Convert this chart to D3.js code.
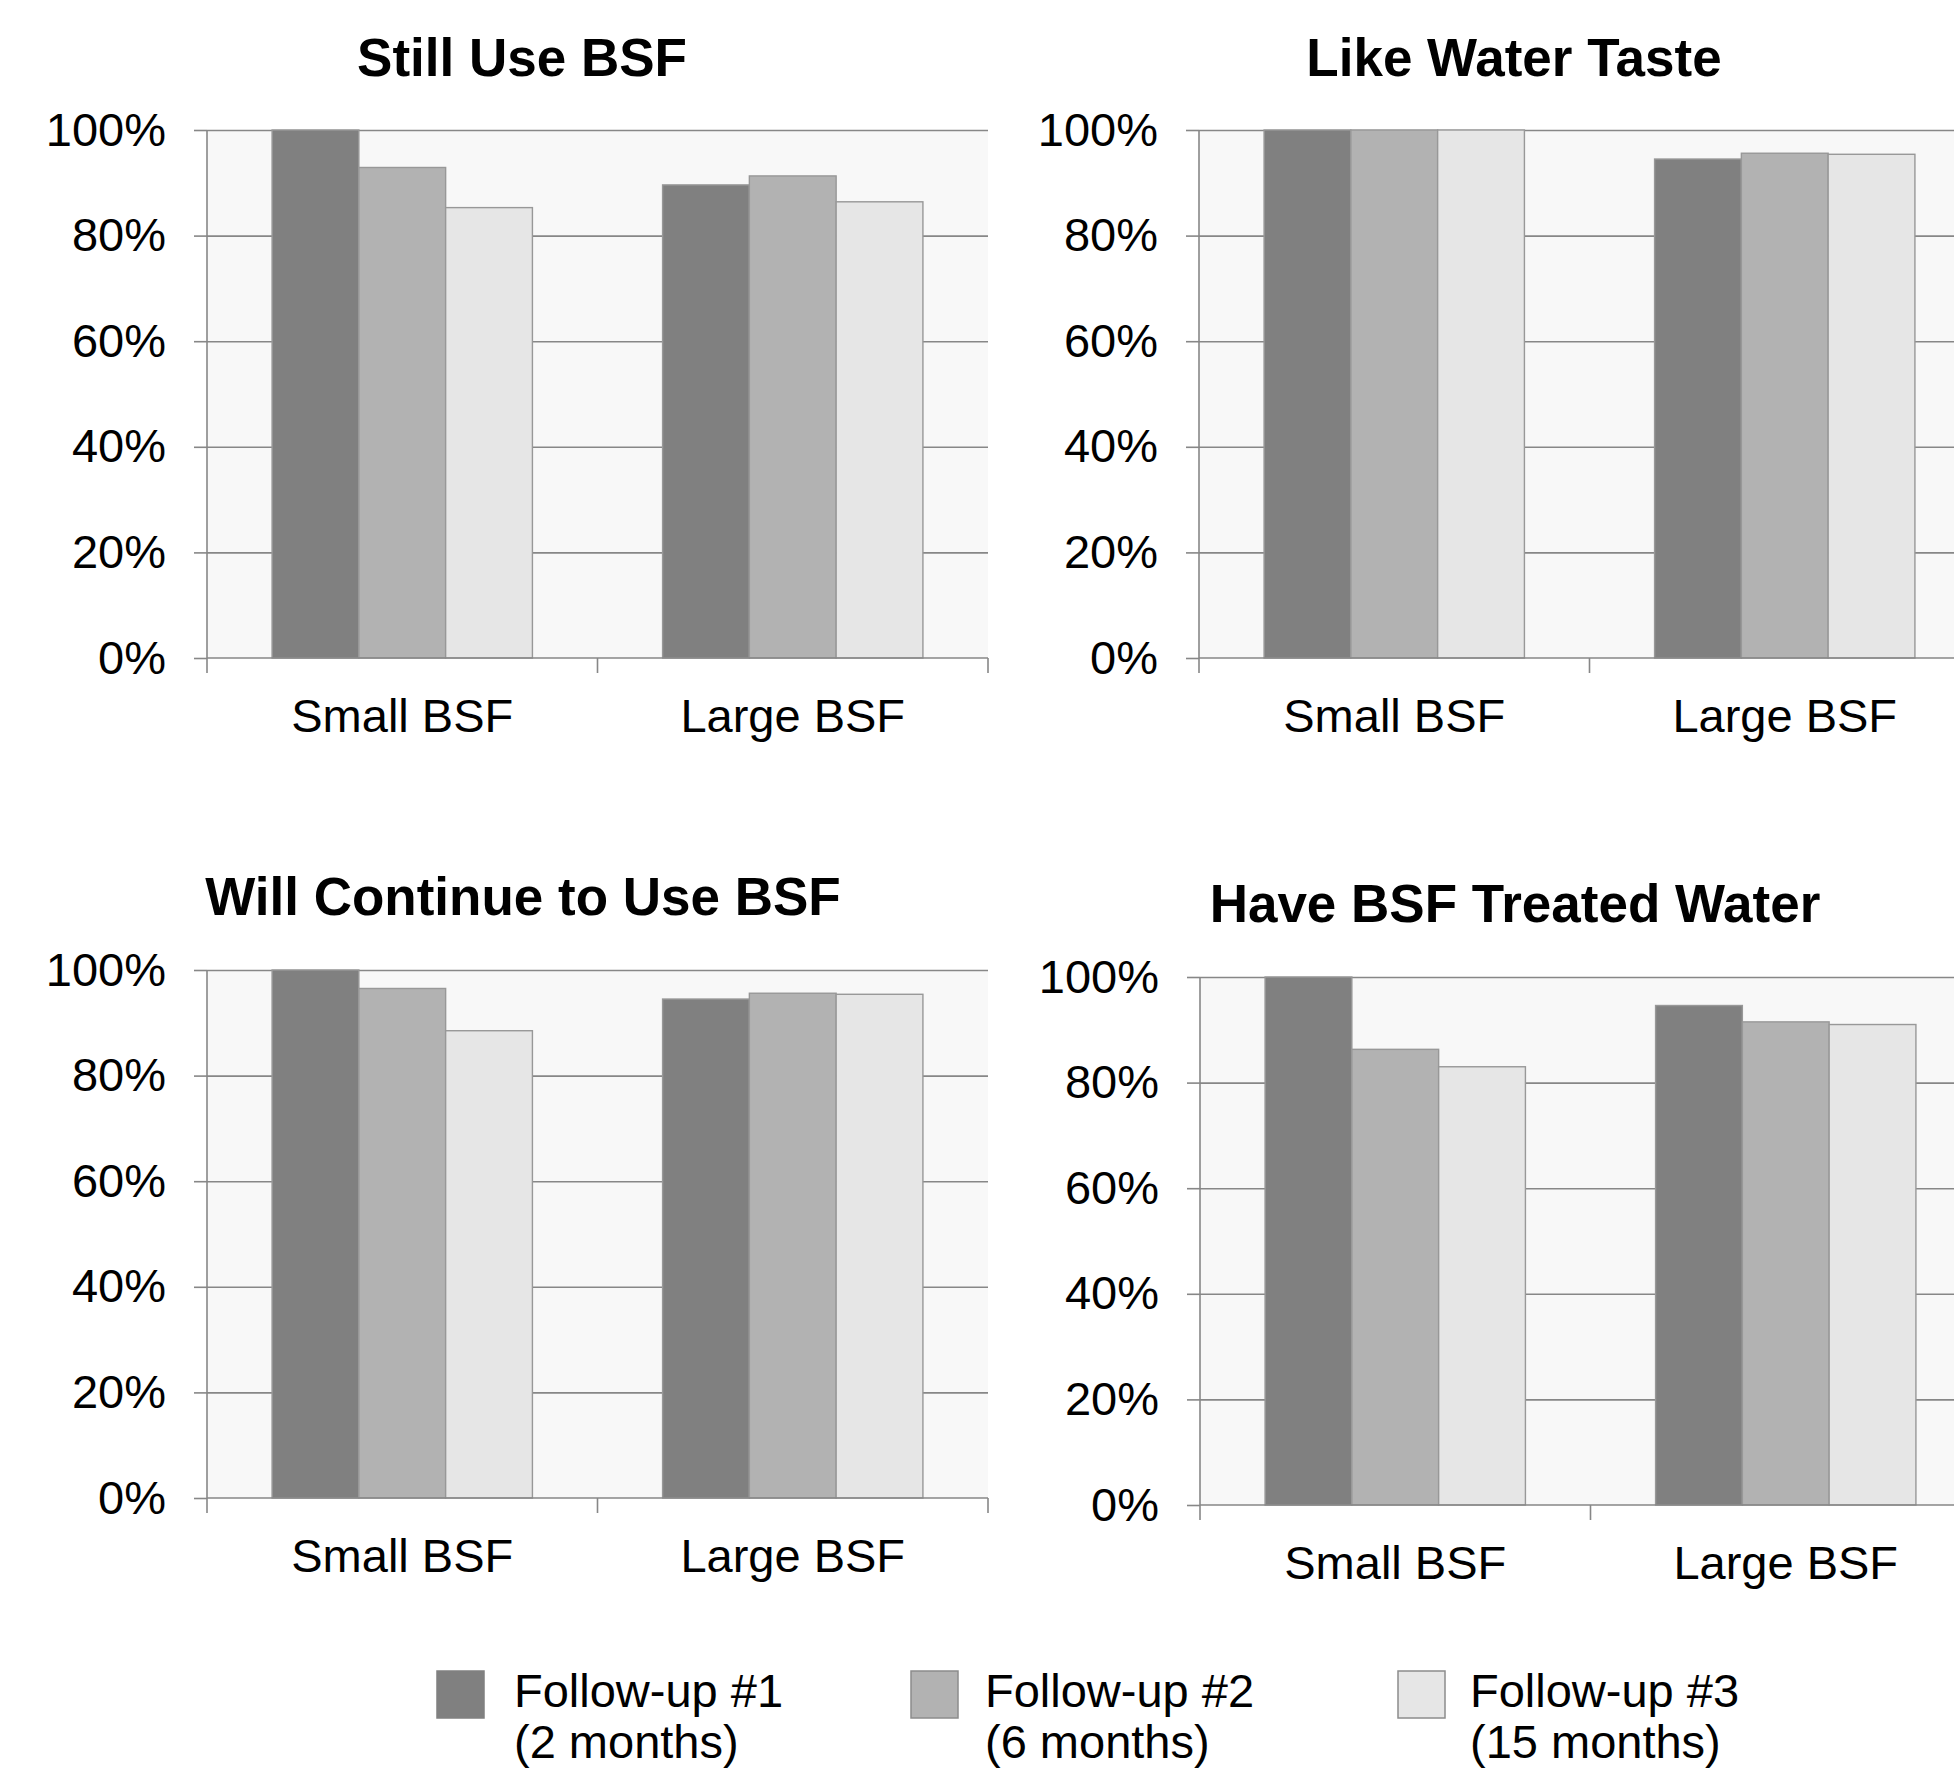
<!DOCTYPE html>
<html>
<head>
<meta charset="utf-8">
<script src="https://cdn.jsdelivr.net/npm/d3@7"></script>
<style>
  body { margin: 0; background: #fff; }
  svg { display: block; font-family: "Liberation Sans", Arial, sans-serif; }
</style>
</head>
<body>
<div id="chart"></div>
<script>
// data
const categories = ["Small BSF", "Large BSF"];
const seriesNames = ["Follow-up #1", "Follow-up #2", "Follow-up #3"];
const seriesPeriods = ["(2 months)", "(6 months)", "(15 months)"];
const panelTitles = ["Still Use BSF", "Like Water Taste", "Will Continue to Use BSF", "Have BSF Treated Water"];
const yTicks = [0, 20, 40, 60, 80, 100];

// values per category: [follow-up 1, 2, 3]
const stillUse = [[100, 92.9, 85.3], [89.6, 91.3, 86.4]];
const likeTaste = [[100, 100, 100], [94.5, 95.6, 95.4]];
const willContinue = [[100, 96.5, 88.5], [94.5, 95.6, 95.4]];
const haveTreated = [[100, 86.3, 83.0], [94.6, 91.5, 91.0]];
const panelValues = [stillUse, likeTaste, willContinue, haveTreated];

const width = 1954, height = 1770;
const plotW = 781, plotH = 528;
const colors = ["#808080", "#b2b2b2", "#e6e6e6"];

// where each panel sits (plot top-left) and where its title is centred
const layout = [
  { x: 207, y: 130, tx: 522, ty: 76 },
  { x: 1199, y: 130, tx: 1514, ty: 76 },
  { x: 207, y: 970, tx: 523, ty: 915 },
  { x: 1200, y: 977, tx: 1515, ty: 922 }
];

const svg = d3.select("#chart").append("svg")
  .attr("width", width)
  .attr("height", height);

const x0 = d3.scaleBand().domain(categories).range([0, plotW]);
const x1 = d3.scaleBand().domain(seriesNames)
  .range([x0.bandwidth() / 6, x0.bandwidth() * 5 / 6]);
const y = d3.scaleLinear().domain([0, 100]).range([plotH, 0]);

panelValues.forEach((vals, i) => {
  const pos = layout[i];

  svg.append("text")
    .attr("x", pos.tx)
    .attr("y", pos.ty)
    .attr("text-anchor", "middle")
    .attr("font-size", "53px")
    .attr("font-weight", "bold")
    .text(panelTitles[i]);

  const g = svg.append("g")
    .attr("transform", "translate(" + pos.x + "," + pos.y + ")");

  // plot background
  g.append("rect")
    .attr("width", plotW)
    .attr("height", plotH)
    .attr("fill", "#f8f8f8");

  // gridlines
  g.append("g")
    .call(d3.axisLeft(y).tickValues(yTicks.slice(1)).tickSize(-plotW).tickFormat(""))
    .call(s => s.select(".domain").remove())
    .selectAll("line")
    .attr("stroke", "#878787")
    .attr("stroke-width", 1.6);

  // bars
  g.append("g")
    .selectAll("g")
    .data(vals)
    .enter().append("g")
    .attr("transform", (d, ci) => "translate(" + x0(categories[ci]) + ",0)")
    .selectAll("rect")
    .data(d => d)
    .enter().append("rect")
    .attr("x", (d, si) => x1(seriesNames[si]))
    .attr("y", d => y(d))
    .attr("width", x1.bandwidth())
    .attr("height", d => plotH - y(d))
    .attr("fill", (d, si) => colors[si])
    .attr("stroke", "#989898")
    .attr("stroke-width", 1.4);

  // y axis
  const yAxis = g.append("g")
    .call(d3.axisLeft(y).tickValues(yTicks).tickSize(13).tickPadding(28).tickFormat(d => d + "%"));
  yAxis.select(".domain").attr("stroke", "#878787").attr("stroke-width", 1.6)
    .attr("d", "M0," + plotH + "V0");
  yAxis.selectAll("line").attr("stroke", "#878787").attr("stroke-width", 1.6);
  yAxis.selectAll("text").attr("font-size", "47px").attr("fill", "#000")
    .attr("font-family", "Liberation Sans, Arial, sans-serif");

  // x axis with ticks on the category boundaries
  const xAxis = g.append("g")
    .attr("transform", "translate(0," + plotH + ")")
    .call(d3.axisBottom(x0).tickSize(0).tickPadding(41));
  xAxis.select(".domain").attr("stroke", "#878787").attr("stroke-width", 1.6)
    .attr("d", "M0,0H" + plotW);
  xAxis.selectAll("text").attr("font-size", "47px").attr("fill", "#000")
    .attr("font-family", "Liberation Sans, Arial, sans-serif");
  xAxis.selectAll(".edge")
    .data(categories.map(c => x0(c)).concat([plotW]))
    .enter().append("line")
    .attr("class", "edge")
    .attr("x1", d => d).attr("x2", d => d)
    .attr("y1", 0).attr("y2", 15)
    .attr("stroke", "#878787")
    .attr("stroke-width", 1.6);
});

// legend
const legend = svg.append("g")
  .attr("transform", "translate(437,1671)")
  .selectAll("g")
  .data(seriesNames)
  .enter().append("g")
  .attr("transform", (d, i) => "translate(" + [0, 474, 961][i] + ",0)");

legend.append("rect")
  .attr("width", 47)
  .attr("height", 47)
  .attr("fill", (d, i) => colors[i])
  .attr("stroke", (d, i) => i === 0 ? colors[0] : "#8c8c8c")
  .attr("stroke-width", 1.5);

legend.append("text")
  .attr("x", (d, i) => [77, 74, 72][i])
  .attr("y", 36)
  .attr("font-size", "47px")
  .text(d => d);

legend.append("text")
  .attr("x", (d, i) => [77, 74, 72][i])
  .attr("y", 87)
  .attr("font-size", "47px")
  .text((d, i) => seriesPeriods[i]);
</script>
</body>
</html>
